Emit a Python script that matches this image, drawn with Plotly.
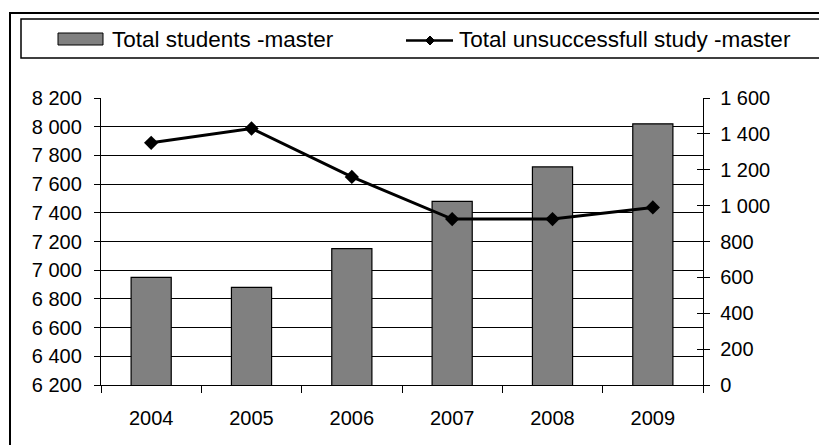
import plotly.graph_objects as go

# ---- data ----
years = ["2004", "2005", "2006", "2007", "2008", "2009"]
total_students = [6950, 6880, 7150, 7480, 7720, 8020]
unsuccessful = [1350, 1430, 1160, 925, 925, 990]
bar_name = "Total students -master"
line_name = "Total unsuccessfull study -master"
left_tickvals = [6200, 6400, 6600, 6800, 7000, 7200, 7400, 7600, 7800, 8000, 8200]
left_ticktext = ["6 200", "6 400", "6 600", "6 800", "7 000", "7 200", "7 400",
                 "7 600", "7 800", "8 000", "8 200"]
right_tickvals = [0, 200, 400, 600, 800, 1000, 1200, 1400, 1600]
right_ticktext = ["0", "200", "400", "600", "800", "1 000", "1 200", "1 400", "1 600"]

# ---- layout geometry ----
W, H = 819, 445
L, R, T, B = 101, 116, 98, 60
pw = W - L - R
ph = H - T - B
FONT = "Liberation Sans, Arial, sans-serif"


def px(x):
    return (x - L) / pw


def py(y):
    return (H - B - y) / ph


fig = go.Figure()
fig.add_trace(go.Bar(
    x=years, y=total_students, name=bar_name, width=0.4,
    marker=dict(color="#808080", line=dict(color="black", width=1.2)),
    yaxis="y", showlegend=False,
))
fig.add_trace(go.Scatter(
    x=years, y=unsuccessful, name=line_name, mode="lines+markers",
    line=dict(color="black", width=3),
    marker=dict(symbol="diamond", size=11, color="black"),
    yaxis="y2", showlegend=False,
))
# helper traces so the inside-tick overlay axes are drawn
fig.add_trace(go.Scatter(x=years, y=[None] * len(years), yaxis="y3",
                         showlegend=False, hoverinfo="skip"))
fig.add_trace(go.Scatter(x=years, y=[None] * len(years), yaxis="y4",
                         showlegend=False, hoverinfo="skip"))

tickfont = dict(family=FONT, size=20, color="black")

fig.update_layout(
    width=W, height=H, autosize=False,
    margin=dict(l=L, r=R, t=T, b=B, pad=0),
    paper_bgcolor="white", plot_bgcolor="white",
    font=dict(family=FONT, color="black"),
    showlegend=False,
    bargap=0.6,
    xaxis=dict(
        type="category", tickson="boundaries", ticks="outside", ticklen=7,
        tickcolor="black", tickwidth=1.2, showline=True, linecolor="black", linewidth=1.3,
        showgrid=False, tickfont=tickfont, ticklabelstandoff=15,
        range=[-0.5, 5.5],
    ),
    yaxis=dict(
        range=[6200, 8200], tickvals=left_tickvals, ticktext=left_ticktext,
        ticks="outside", ticklen=6, tickcolor="black", tickwidth=1.2,
        showline=True, linecolor="black", linewidth=1.3,
        showgrid=True, gridcolor="black", gridwidth=1.2,
        zeroline=False, tickfont=tickfont, ticklabelstandoff=8,
    ),
    yaxis2=dict(
        range=[0, 1600], tickvals=right_tickvals, ticktext=right_ticktext,
        overlaying="y", side="right", anchor="x",
        ticks="outside", ticklen=6, tickcolor="black", tickwidth=1.2,
        showline=True, linecolor="black", linewidth=1.3,
        showgrid=False, zeroline=False, tickfont=tickfont, ticklabelstandoff=6,
    ),
    yaxis3=dict(
        range=[6200, 8200], tickvals=left_tickvals, overlaying="y", side="left",
        anchor="x", ticks="inside", ticklen=6, tickcolor="black", tickwidth=1.2,
        showticklabels=False, showgrid=False, showline=False, zeroline=False,
    ),
    yaxis4=dict(
        range=[0, 1600], tickvals=right_tickvals, overlaying="y", side="right",
        anchor="x", ticks="inside", ticklen=6, tickcolor="black", tickwidth=1.2,
        showticklabels=False, showgrid=False, showline=False, zeroline=False,
    ),
)

shapes = [
    # outer chart border
    dict(type="rect", xref="paper", yref="paper",
         x0=px(10), x1=px(840), y0=py(470), y1=py(13),
         line=dict(color="black", width=2)),
    # legend box
    dict(type="rect", xref="paper", yref="paper",
         x0=px(21), x1=px(840), y0=py(58), y1=py(19),
         line=dict(color="black", width=1.5)),
    # bar legend symbol
    dict(type="rect", xref="paper", yref="paper",
         x0=px(58), x1=px(103), y0=py(45), y1=py(33),
         fillcolor="#808080", line=dict(color="black", width=1)),
    # line legend symbol
    dict(type="line", xref="paper", yref="paper",
         x0=px(406), x1=px(453), y0=py(40.5), y1=py(40.5),
         line=dict(color="black", width=2.5)),
]
cx, cy, d = 430, 40.5, 4.5
shapes.append(dict(
    type="path", xref="paper", yref="paper",
    path=(f"M {px(cx - d)} {py(cy)} L {px(cx)} {py(cy - d)} "
          f"L {px(cx + d)} {py(cy)} L {px(cx)} {py(cy + d)} Z"),
    fillcolor="black", line=dict(color="black", width=1),
))
fig.update_layout(shapes=shapes)

fig.add_annotation(text=bar_name, xref="paper", yref="paper",
                   x=px(110), y=py(39.5), xanchor="left", yanchor="middle",
                   showarrow=False, font=dict(family=FONT, size=22.5, color="black"))
fig.add_annotation(text=line_name, xref="paper", yref="paper",
                   x=px(457), y=py(39.5), xanchor="left", yanchor="middle",
                   showarrow=False, font=dict(family=FONT, size=22.5, color="black"))

fig.write_html("out.html", config={"displayModeBar": False},
               post_script="document.body.style.margin='0';document.body.style.overflow='hidden';")
